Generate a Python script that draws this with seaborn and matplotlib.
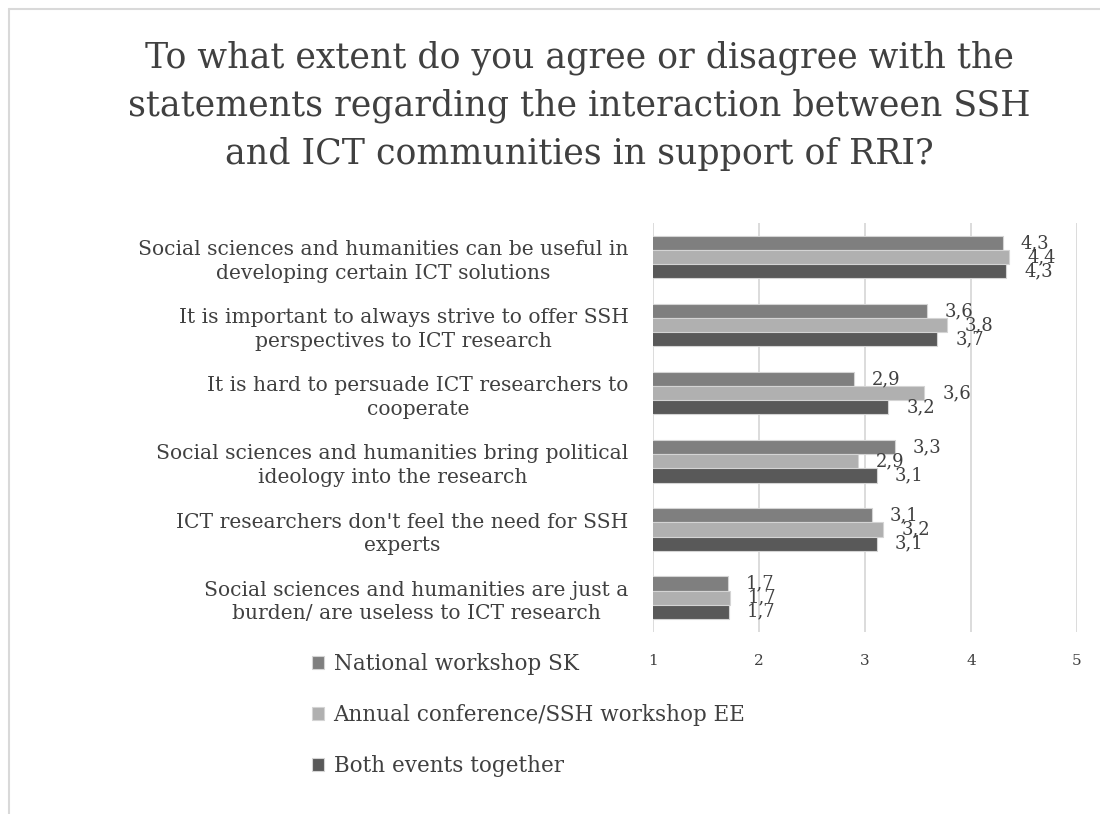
import numpy as np
import pandas as pd
import matplotlib.pyplot as plt
import seaborn as sns
from matplotlib.lines import Line2D

# statements (y categories)
statements = [
    "Social sciences and humanities can be useful in\ndeveloping certain ICT solutions",
    "It is important to always strive to offer SSH\nperspectives to ICT research",
    "It is hard to persuade ICT researchers to\ncooperate",
    "Social sciences and humanities bring political\nideology into the research",
    "ICT researchers don't feel the need for SSH\nexperts",
    "Social sciences and humanities are just a\nburden/ are useless to ICT research",
]
series_names = ["National workshop SK", "Annual conference/SSH workshop EE", "Both events together"]
sk_values = [4.30, 3.58, 2.89, 3.28, 3.06, 1.70]
ee_values = [4.36, 3.77, 3.56, 2.93, 3.17, 1.72]
both_values = [4.33, 3.68, 3.22, 3.11, 3.11, 1.71]
x_ticks = [1, 2, 3, 4, 5]

title = ("To what extent do you agree or disagree with the\n"
         "statements regarding the interaction between SSH\n"
         "and ICT communities in support of RRI?")

# long format table for seaborn
df = pd.DataFrame({
    "statement": statements * 3,
    "series": [series_names[0]] * 6 + [series_names[1]] * 6 + [series_names[2]] * 6,
    "value": sk_values + ee_values + both_values,
})

sns.set_style("white")
plt.rcParams['font.family'] = ['DejaVu Serif']
txt = '#404040'

fig = plt.figure(figsize=(11, 8.14), dpi=100)
ax = fig.add_axes([0.594, 0.224, 0.385, 0.502])

palette = ['#7f7f7f', '#b0b0b0', '#595959']
sns.barplot(data=df, y="statement", x="value", hue="series", hue_order=series_names,
            order=statements, palette=palette, width=0.62, orient='h',
            edgecolor='#d4d4d4', linewidth=0.8, ax=ax, errorbar=None, zorder=3)

ax.set_xlim(1, 5)
ax.set_xticks(x_ticks)
ax.set_xlabel("")
ax.set_ylabel("")
for s in ax.spines.values():
    s.set_visible(False)
ax.grid(axis='x', color='#d9d9d9', linewidth=1.3, zorder=0)
ax.tick_params(axis='x', length=0, pad=16, labelsize=11, labelcolor=txt)
ax.tick_params(axis='y', length=0, pad=18, labelsize=14.6, labelcolor=txt)
for lab in ax.get_yticklabels():
    lab.set_multialignment('center')
    lab.set_linespacing(1.3)

# data labels with decimal comma
for cont in ax.containers:
    labels = [f"{b.get_width():.1f}".replace('.', ',') for b in cont]
    ax.bar_label(cont, labels=labels, padding=13, fontsize=13, color=txt, clip_on=False)

# legend below the plot, left side
handles, labels = ax.get_legend_handles_labels()
ax.legend_.remove()
fig.legend(handles, labels, loc='upper left', bbox_to_anchor=(0.266, 0.222),
           frameon=False, fontsize=15.5, handlelength=0.55, handleheight=0.55,
           handletextpad=0.45, labelspacing=1.35, labelcolor=txt)

fig.text(0.527, 0.95, title, ha='center', va='top', fontsize=25, color=txt,
         linespacing=1.5)

# light frame on top and left
fig.add_artist(Line2D([0.008, 0.008], [0, 0.989], transform=fig.transFigure, color='#d9d9d9', lw=1.5))
fig.add_artist(Line2D([0.008, 1], [0.989, 0.989], transform=fig.transFigure, color='#d9d9d9', lw=1.5))

fig.savefig('out.png', dpi=100)
